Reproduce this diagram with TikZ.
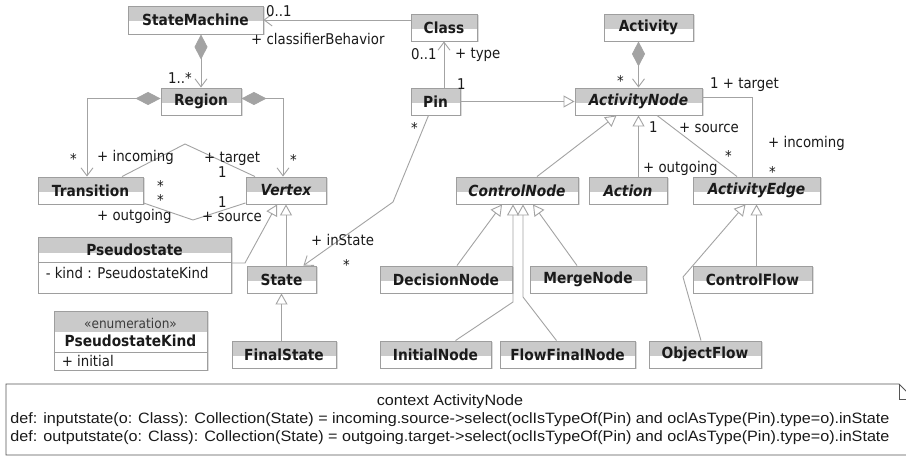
\documentclass[tikz,border=0pt]{standalone}
\usepackage{fontspec}
\setmainfont{DejaVu Sans}[FakeStretch=0.9]
\newfontfamily\notefont{Liberation Sans}
\usetikzlibrary{arrows.meta,calc,shadows}
\definecolor{hdrc}{HTML}{CACACA}
\definecolor{bordc}{HTML}{9E9E9E}
\definecolor{linec}{HTML}{A3A3A3}
\definecolor{shadc}{HTML}{DCDCDC}
\definecolor{txtc}{HTML}{1A1A1A}
\definecolor{notec}{HTML}{555555}
\begin{document}
\begin{tikzpicture}[x=1pt,y=-1pt,
  shd/.style={drop shadow={shadow xshift=1.5pt, shadow yshift=-1.5pt, fill=shadc, opacity=1}},
  box/.style={draw=bordc, fill=white, line width=0.9pt, inner sep=0pt, minimum height=27pt,
    text=txtc, font=\bfseries\fontsize{15.3}{17}\selectfont, shd,
    path picture={\fill[hdrc] (path picture bounding box.north west) rectangle ([yshift=-1.5pt]path picture bounding box.east);}},
  abs/.style={box, font=\bfseries\itshape\fontsize{15.3}{17}\selectfont},
  namef/.style={inner sep=0pt, text=txtc, font=\bfseries\fontsize{15.3}{17}\selectfont},
  lbl/.style={anchor=base west, inner sep=0pt, text=txtc, font=\fontsize{14.8}{16}\selectfont},
  conn/.style={draw=linec, line width=0.9pt},
  nav/.style={conn, -{Straight Barb[length=8pt, width=12pt]}},
  gen/.style={conn, -{Triangle[open, length=11pt, width=12pt, fill=white]}},
  comp/.style={conn, {Diamond[length=25pt, width=13pt]}-{Straight Barb[length=8pt, width=12pt]}},
]
\useasboundingbox (0,0) rectangle (906,457);
\clip (0,0) rectangle (906,457);
\fill[white] (0,0) rectangle (906,457);

% class boxes
\node[box, minimum width=135pt, minimum height=28pt] (sm) at (195.5,20) {StateMachine};
\node[box, minimum width=66pt] (cls) at (444,27.5) {Class};
\node[box, minimum width=89pt] (actv) at (648.5,27.5) {Activity};
\node[box, minimum width=80pt] (reg) at (201,101.5) {Region};
\node[box, minimum width=49pt] (pin) at (435.5,101.5) {Pin};
\node[abs, minimum width=127pt] (an) at (638.5,101.5) {ActivityNode};
\node[box, minimum width=105pt] (tr) at (90.5,190.5) {Transition};
\node[abs, minimum width=80pt] (vx) at (286,190.5) {Vertex};
\node[abs, minimum width=122pt] (cn) at (517,190.5) {ControlNode};
\node[abs, minimum width=78pt] (ac) at (628,190.5) {Action};
\node[abs, minimum width=127pt] (ae) at (756.5,190.5) {ActivityEdge};
\node[box, minimum width=69pt] (st) at (281.5,279.5) {State};
\node[box, minimum width=104pt] (fs) at (284,354.5) {FinalState};
\node[box, minimum width=132pt] (dn) at (446,279.5) {DecisionNode};
\node[box, minimum width=116pt] (mn) at (588,279.5) {MergeNode};
\node[box, minimum width=119pt] (cf) at (752.5,279.5) {ControlFlow};
\node[box, minimum width=111pt] (ini) at (435.5,354.5) {InitialNode};
\node[box, minimum width=135pt] (ff) at (567.5,354.5) {FlowFinalNode};
\node[box, minimum width=112pt] (of) at (705,354.5) {ObjectFlow};

% Pseudostate
\node[draw=bordc, fill=white, line width=0.9pt, inner sep=0pt, minimum width=193pt, minimum height=56pt, shd,
  path picture={\fill[hdrc] (path picture bounding box.north west) rectangle ([yshift=-16pt]path picture bounding box.north east);}] (ps) at (134.5,265) {};
\draw[bordc, line width=0.9pt] ([yshift=-26pt]ps.north west) -- ([yshift=-26pt]ps.north east);
\node[namef] (psname) at ([yshift=-13.5pt]ps.north) {Pseudostate};
\node[lbl, anchor=base west] (psattr) at ([xshift=8pt,yshift=-42pt]ps.north west) {- kind : PseudostateKind};

% Enumeration
\node[draw=bordc, fill=white, line width=0.9pt, inner sep=0pt, minimum width=153pt, minimum height=59pt, shd,
  path picture={\fill[hdrc] (path picture bounding box.north west) rectangle ([yshift=-21pt]path picture bounding box.north east);}] (en) at (130.5,340.5) {};
\draw[bordc, line width=0.9pt] ([yshift=-42pt]en.north west) -- ([yshift=-42pt]en.north east);
\node[inner sep=0pt, text=txtc!85, font=\fontsize{13.5}{15}\selectfont] (enst) at ([yshift=-13pt]en.north) {«enumeration»};
\node[namef] (enname) at ([yshift=-30pt]en.north) {PseudostateKind};
\node[lbl] (enlit) at ([xshift=8pt,yshift=-56pt]en.north west) {+ initial};

% connectors
\draw[nav] (cls.west |- sm.east) -- (sm.east);
\draw[comp] (sm.south -| reg.north) -- (reg.north);
\draw[comp] ([yshift=3pt]reg.west) -| ([xshift=-3.5pt]tr.north);
\draw[comp] ([yshift=3pt]reg.east) -| ([xshift=-3pt]vx.north);
\coordinate (b1) at (185,144);
\draw[conn] ([xshift=31.5pt]tr.north) -- (b1) -- ([xshift=-31pt]vx.north);
\coordinate (b2) at (193,220);
\draw[conn] ([yshift=1.5pt]tr.south east) -- (b2) -- ([yshift=1.5pt]vx.south west);
\coordinate (b3) at (245,263);
\draw[gen] ([yshift=2pt]ps.east) -- (b3) -- ([xshift=-9pt]vx.south);
\draw[gen] (st.north -| vx.south) -- (vx.south);
\draw[gen] (fs.north -| st.south) -- (st.south);
\coordinate (b4) at (393,202);
\draw[nav] ([xshift=-7pt]pin.south) -- (b4) -- ([xshift=-13pt]st.north east);
\draw[nav] (pin.north -| cls.south) -- (cls.south);
\draw[gen] (pin.east) -- (an.west);
\draw[comp] (actv.south -| an.north) -- (an.north);
\draw[conn] ([yshift=4.5pt]an.east) -| ([xshift=-4pt]ae.north);
\draw[conn] ([xshift=18.5pt]an.south) -- ([xshift=-19.5pt]ae.north);
\draw[gen] ([xshift=20pt]cn.north) -- ([xshift=-22pt]an.south);
\draw[gen] (ac.north -| an.south) -- (an.south);
\draw[gen] ([xshift=11pt]dn.north) -- ([xshift=-15pt]cn.south);
\coordinate (b5) at (513,302);
\draw[gen] ([xshift=20pt]ini.north) -- (b5) -- ([xshift=-4pt]cn.south);
\coordinate (b6) at (523,297);
\draw[gen] ([xshift=-11pt]ff.north) -- (b6) -- ([xshift=6pt]cn.south);
\draw[gen] ([xshift=-11pt]mn.north) -- ([xshift=16pt]cn.south);
\draw[gen] (cf.north -| ae.south) -- (ae.south);
\coordinate (b7) at (683,277);
\draw[gen] ([xshift=-4pt]of.north) -- (b7) -- ([xshift=-11pt]ae.south);

% labels
\node[lbl] (l1) at (266,16.5) {0..1};
\node[lbl] (l2) at (251,45) {+ classifierBehavior};
\node[lbl] (l3) at (168,84) {1..*};
\node[lbl] (l4) at (411,60) {0..1};
\node[lbl] (l5) at (455,59) {+ type};
\node[lbl] (l6) at (457,90) {1};
\node[lbl] (l7) at (710,89) {1 + target};
\node[lbl] (l8) at (679,133) {+ source};
\node[lbl] (l9) at (649,133) {1};
\node[lbl] (l10) at (643,173) {+ outgoing};
\node[lbl] (l11) at (768,148) {+ incoming};
\node[lbl] (l12) at (97,162) {+ incoming};
\node[lbl] (l13) at (204,163) {+ target};
\node[lbl] (l14) at (218,178) {1};
\node[lbl] (l15) at (218,208) {1};
\node[lbl] (l16) at (97,221) {+ outgoing};
\node[lbl] (l17) at (202,222) {+ source};
\node[lbl] (l18) at (311,246) {+ inState};
\node[lbl] (s1) at (411,133.5) {*};
\node[lbl] (s2) at (617,86.5) {*};
\node[lbl] (s3) at (725,161.5) {*};
\node[lbl] (s4) at (769,177.5) {*};
\node[lbl] (s5) at (70,164.5) {*};
\node[lbl] (s6) at (290,165.5) {*};
\node[lbl] (s7) at (157,191.5) {*};
\node[lbl] (s8) at (157,205.5) {*};
\node[lbl] (s9) at (343,270.5) {*};

% note
\draw[notec, line width=0.8pt] (914,455) -- (6,455) -- (6,384) -- (899,384) -- (914,399);
\draw[notec, line width=0.8pt] (899,384) -- (899,399) -- (914,399);
\node[inner sep=0pt, text=txtc] (notetxt) at (450,419.5) {\resizebox{879pt}{\height}{\notefont\fontsize{15}{18}\selectfont
  \begin{tabular}{@{}l@{}}
  \multicolumn{1}{@{}c@{}}{context ActivityNode}\\
  def: inputstate(o: Class): Collection(State) = incoming.source->select(oclIsTypeOf(Pin) and oclAsType(Pin).type=o).inState\\
  def: outputstate(o: Class): Collection(State) = outgoing.target->select(oclIsTypeOf(Pin) and oclAsType(Pin).type=o).inState
  \end{tabular}}};
\end{tikzpicture}
\end{document}
